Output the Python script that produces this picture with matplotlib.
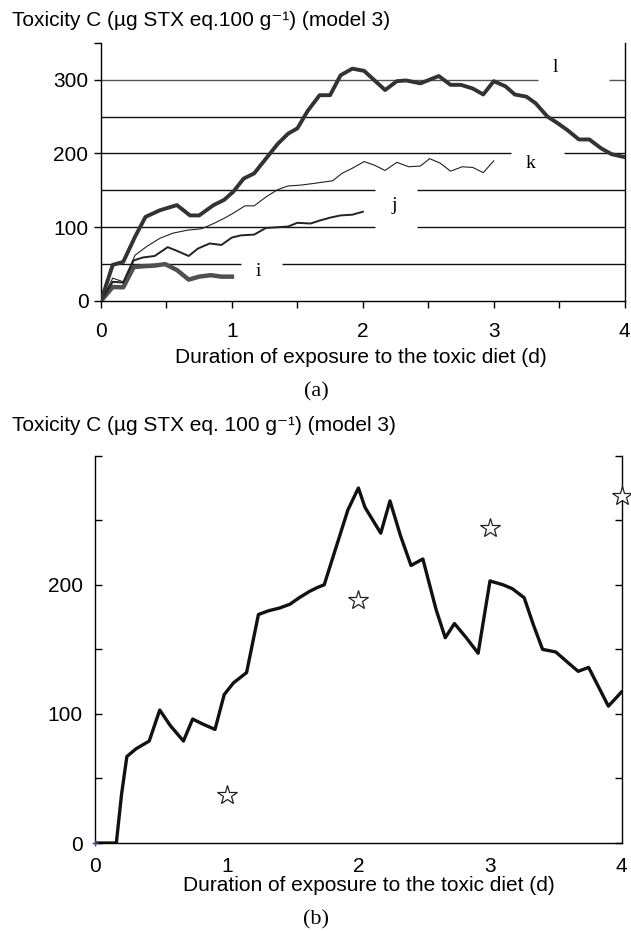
import matplotlib
matplotlib.use('Agg')
import matplotlib.pyplot as plt
import numpy as np

plt.rcParams['font.family'] = ['Liberation Sans', 'DejaVu Sans']

# panel (a): four model curves
l_x = [0, 0.09, 0.17, 0.26, 0.34, 0.45, 0.58, 0.68, 0.75, 0.86, 0.94, 1.01, 1.09, 1.17, 1.26, 1.35,
       1.43, 1.50, 1.58, 1.67, 1.75, 1.83, 1.92, 2.01, 2.09, 2.17, 2.26, 2.33, 2.44, 2.58, 2.67, 2.75,
       2.84, 2.92, 3.00, 3.09, 3.16, 3.25, 3.32, 3.41, 3.48, 3.56, 3.65, 3.73, 3.82, 3.90, 4.0]
l_y = [0, 49, 53, 87, 114, 123, 130, 116, 116, 130, 137, 148, 166, 173, 193, 213,
       227, 234, 258, 279, 279, 306, 315, 312, 299, 286, 298, 299, 295, 305, 293, 293,
       288, 280, 298, 291, 280, 277, 268, 250, 242, 232, 219, 219, 207, 199, 195]

k_x = [0, 0.09, 0.17, 0.26, 0.35, 0.45, 0.55, 0.66, 0.77, 0.86, 0.94, 1.01, 1.10, 1.17, 1.26, 1.35,
       1.43, 1.52, 1.61, 1.69, 1.77, 1.84, 1.92, 2.01, 2.09, 2.17, 2.26, 2.35, 2.44, 2.51, 2.59, 2.67,
       2.76, 2.84, 2.92, 3.00]
k_y = [0, 31, 26, 62, 74, 85, 92, 96, 98, 105, 112, 119, 129, 129, 141, 151,
       156, 157, 159, 161, 163, 173, 180, 189, 184, 177, 188, 182, 183, 193, 187, 176,
       182, 181, 174, 190]

j_x = [0, 0.09, 0.17, 0.25, 0.32, 0.41, 0.51, 0.58, 0.67, 0.74, 0.83, 0.92, 1.00, 1.07, 1.17, 1.26,
       1.35, 1.43, 1.50, 1.60, 1.67, 1.75, 1.83, 1.92, 2.00]
j_y = [0, 26, 25, 55, 59, 61, 73, 68, 61, 71, 78, 76, 86, 89, 90, 99,
       100, 101, 106, 105, 109, 113, 116, 117, 121]

i_x = [0, 0.09, 0.17, 0.25, 0.32, 0.41, 0.49, 0.58, 0.67, 0.75, 0.84, 0.92, 1.00]
i_y = [0, 19, 18.5, 46, 47, 48, 50, 42, 29, 33, 35, 33, 33]

# panel (b): model curve and observations
b_x = [0, 0.16, 0.20, 0.24, 0.31, 0.41, 0.49, 0.57, 0.67, 0.74, 0.82, 0.91, 0.98, 1.05, 1.15, 1.24,
       1.32, 1.40, 1.48, 1.55, 1.63, 1.69, 1.74, 1.83, 1.92, 2.00, 2.05, 2.17, 2.24, 2.32, 2.40, 2.49,
       2.59, 2.66, 2.73, 2.82, 2.91, 3.00, 3.10, 3.17, 3.26, 3.33, 3.40, 3.50, 3.59, 3.67, 3.75, 3.90, 4.00]
b_y = [0, 0, 38, 67, 73, 79, 103, 91, 79, 96, 92, 88, 115, 124, 132, 177,
       180, 182, 185, 190, 195, 198, 200, 229, 258, 275, 260, 240, 265, 238, 215, 220,
       181, 159, 170, 159, 147, 203, 200, 197, 190, 169, 150, 148, 140, 133, 136, 106, 117]
obs_x = [1, 2, 3, 4]
obs_y = [37, 188, 244, 269]

# gridlines of panel (a) are broken where the curve labels sit
grid_segments = {
    50: [(0, 1.07), (1.38, 4)],
    100: [(0, 2.09), (2.41, 4)],
    150: [(0, 2.09), (2.41, 4)],
    200: [(0, 3.13), (3.54, 4)],
    250: [(0, 4)],
    300: [(0, 3.34), (3.88, 4)],
}
curve_labels = {'l': (3.47, 316), 'k': (3.28, 187), 'j': (2.24, 130), 'i': (1.20, 40)}

xlab = 'Duration of exposure to the toxic diet (d)'

fig = plt.figure(figsize=(6.31, 9.31), dpi=100)

# ---------- (a) ----------
ax = fig.add_axes([0.160, 0.6767, 0.830, 0.2773])
for yv, segs in grid_segments.items():
    for x0, x1 in segs:
        ax.hlines(yv, x0, x1, color='#555555' if yv == 300 else '#111111', lw=1.0, zorder=1)

ax.plot(i_x, i_y, color='#505050', lw=3.2, zorder=3)
ax.plot(j_x, j_y, color='#222222', lw=1.4, zorder=3)
ax.plot(k_x, k_y, color='#222222', lw=0.8, zorder=3)
ax.plot(l_x, l_y, color='#333333', lw=2.8, zorder=3)

for name, (tx, ty) in curve_labels.items():
    ax.text(tx, ty, name, family=['Liberation Serif'], fontsize=14,
            ha='center', va='center')

ax.set_xlim(0, 4)
ax.set_ylim(0, 350)
ax.set_xticks([0, 1, 2, 3, 4])
ax.set_xticks(np.arange(0.5, 4, 1.0), minor=True)
ax.set_yticks([0, 100, 200, 300])
ax.set_yticks([350], minor=True)
ax.tick_params(axis='both', which='both', direction='out', length=5, width=1, labelsize=15)
ax.tick_params(axis='x', pad=10)
ax.tick_params(axis='y', pad=4)
ax.spines['top'].set_visible(False)
for s in ['left', 'right', 'bottom']:
    ax.spines[s].set_linewidth(1.0)
fig.text(0.572, 0.6155, xlab, fontsize=15, ha='center', va='center')
fig.text(0.019, 0.9785, 'Toxicity C (µg STX eq.100 g⁻¹) (model 3)',
         fontsize=15, ha='left', va='center')
fig.text(0.501, 0.579, '(a)', family=['Liberation Serif'], fontsize=16, ha='center', va='center')

# ---------- (b) ----------
bx = fig.add_axes([0.151, 0.0945, 0.834, 0.416])
bx.plot(b_x, b_y, color='#111111', lw=2.4, zorder=3)
bx.plot(obs_x, obs_y, ls='none', marker='*', ms=15, mfc='white', mec='#222222', mew=0.9,
        zorder=4, clip_on=False)
bx.plot([0], [0], ls='none', marker='+', ms=5, color='#3344cc', zorder=5, clip_on=False)

bx.set_xlim(0, 4)
bx.set_ylim(0, 300)
bx.set_xticks([0, 1, 2, 3, 4])
bx.set_yticks(np.arange(0, 301, 50))
bx.set_yticklabels(['0', '', '100', '', '200', '', ''])
bx.tick_params(axis='y', which='both', direction='in', length=5, width=1, labelsize=15,
               right=True, pad=9)
bx.tick_params(axis='x', direction='in', length=0, labelsize=15, pad=10)
bx.spines['top'].set_visible(False)
for s in ['left', 'right', 'bottom']:
    bx.spines[s].set_linewidth(1.0)
fig.text(0.585, 0.0494, xlab, fontsize=15, ha='center', va='center')
fig.text(0.019, 0.5435, 'Toxicity C (µg STX eq. 100 g⁻¹) (model 3)',
         fontsize=15, ha='left', va='center')
fig.text(0.501, 0.0118, '(b)', family=['Liberation Serif'], fontsize=16, ha='center', va='center')

fig.savefig('out.png', dpi=100)
